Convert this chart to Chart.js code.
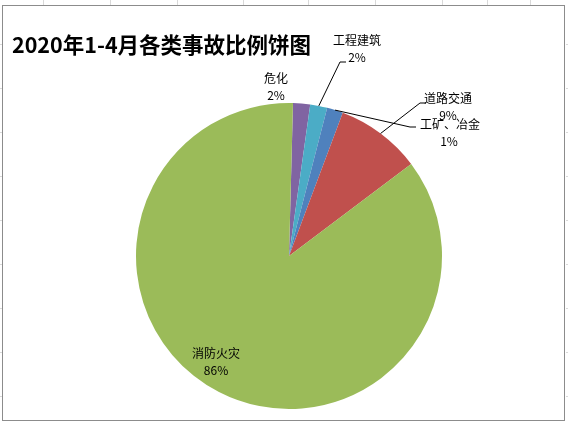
<!DOCTYPE html><html><head><meta charset="utf-8">
<script src="https://cdn.jsdelivr.net/npm/chart.js@4"></script>
<style>html,body{margin:0;padding:0;background:#fff}#w{width:568px;height:425px}</style></head><body>
<div id="w"><canvas id="c"></canvas></div>
<script>
const categories=['危化','工程建筑','工矿、冶金','道路交通','消防火灾'];
const values=[1.8,1.8,1.7,9.0,85.7];
const pctLabels=['2%','2%','1%','9%','86%'];
const colors=['#8064A2','#4BACC6','#4F81BD','#C0504D','#9BBB59'];
const labelPos=[[276,78,null],[357,40,[340,62]],[450,124,[410,127]],[448,98,[420,103]],[216,353,null]];
const FONT='"Noto Sans CJK SC", sans-serif';
const deco={id:'deco',
beforeDraw(ch){const c=ch.ctx;c.save();c.fillStyle='#fff';c.fillRect(0,0,568,425);
c.strokeStyle='#d9d9d9';c.lineWidth=1;[43,110,177,243,308,375,442,487,530].forEach(x=>{c.beginPath();c.moveTo(x+.5,0);c.lineTo(x+.5,5);c.stroke();});
[44,88,132,176,220,264,308,352,396].forEach(y=>{c.beginPath();c.moveTo(0,y+.5);c.lineTo(2,y+.5);c.moveTo(566,y+.5);c.lineTo(568,y+.5);c.stroke();});
c.strokeStyle='#8c8c8c';c.strokeRect(2.5,5.5,562,415);c.restore();},
afterDraw(ch){const c=ch.ctx;c.save();
c.font='bold 21.5px '+FONT;c.fillStyle='#000';c.textBaseline='middle';c.textAlign='left';c.fillText('2020年1-4月各类事故比例饼图',12,45);
const els=ch.getDatasetMeta(0).data;
c.font='12px '+FONT;c.textAlign='center';
els.forEach((a,i)=>{const [x,y,bend]=labelPos[i];
if(bend){const m=(a.startAngle+a.endAngle)/2;const ax=a.x+Math.cos(m)*a.outerRadius,ay=a.y+Math.sin(m)*a.outerRadius;
c.strokeStyle='#000';c.lineWidth=1;c.beginPath();c.moveTo(ax,ay);c.lineTo(bend[0],bend[1]);c.lineTo(bend[0]+6,bend[1]);c.stroke();}
c.fillStyle='#000';c.fillText(categories[i],x,y);c.fillText(pctLabels[i],x+(i==2?-1:0),y+17);});
c.restore();}};
new Chart(document.getElementById('c'),{type:'pie',
data:{labels:categories,datasets:[{data:values,backgroundColor:colors,borderWidth:0}]},
options:{responsive:true,maintainAspectRatio:false,animation:false,rotation:1.5,
layout:{padding:{top:103,bottom:16,left:136,right:126}},
plugins:{legend:{display:false},tooltip:{enabled:false}}},plugins:[deco]});
</script></body></html>
